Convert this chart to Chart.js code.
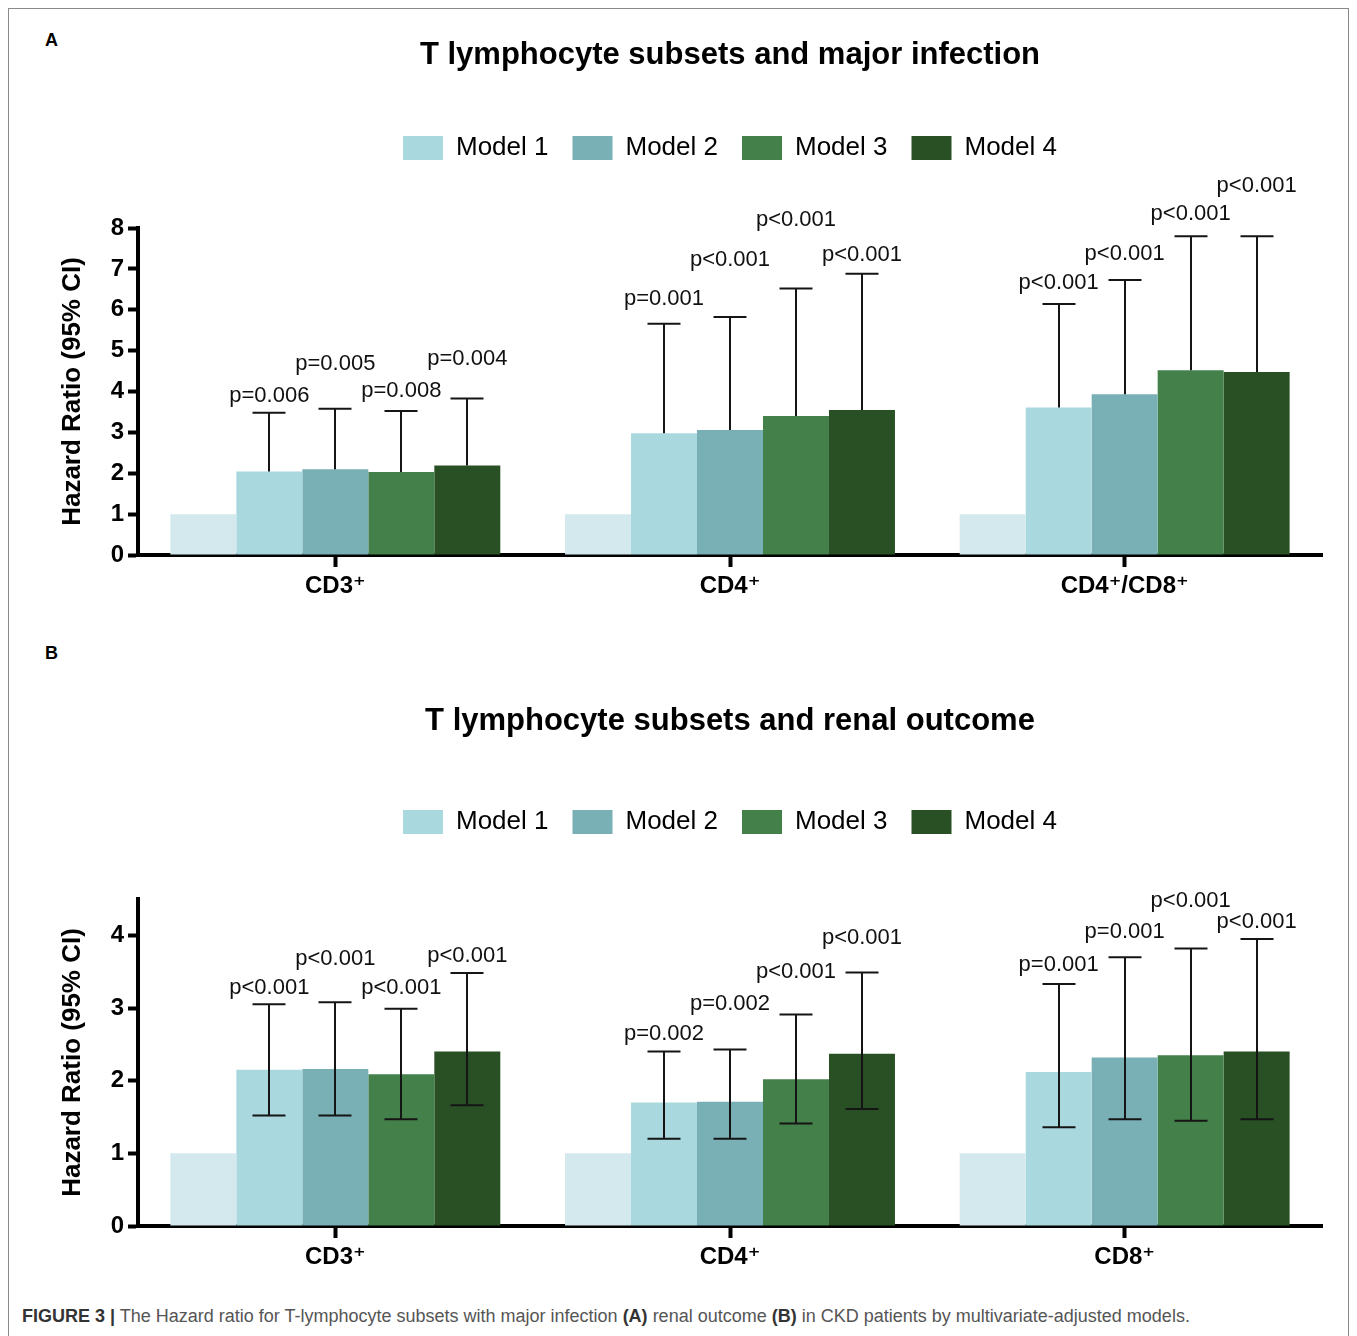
<!DOCTYPE html>
<html>
<head>
<meta charset="utf-8">
<script src="https://cdn.jsdelivr.net/npm/chart.js@4.4.1/dist/chart.umd.min.js"></script>
<style>
  html, body { margin: 0; padding: 0; background: #fff; width: 1357px; height: 1336px; overflow: hidden; }
  #frame { position: absolute; left: 8px; top: 8px; width: 1341px; height: 1340px; border: 1px solid #8a8a8a; box-sizing: border-box; }
  canvas { position: absolute; left: 0; }
  #cA { top: 0; }
  #cB { top: 625px; }
  .panel { position: absolute; left: 45px; font: bold 18px "Liberation Sans", Arial, sans-serif; color: #000; }
  #caption { position: absolute; left: 22px; top: 1306px; font: 18px "Liberation Sans", Arial, sans-serif; color: #555; white-space: nowrap; }
  #caption b { color: #333; }
</style>
</head>
<body>
<div id="frame"></div>
<div class="panel" style="top:30px">A</div>
<div class="panel" style="top:643px">B</div>
<canvas id="cA" width="1357" height="625"></canvas>
<canvas id="cB" width="1357" height="671"></canvas>
<div id="caption"><b>FIGURE 3 |</b> The Hazard ratio for T-lymphocyte subsets with major infection <b>(A)</b> renal outcome <b>(B)</b> in CKD patients by multivariate-adjusted models.</div>
<script>
// ---------------- DATA ----------------
const modelNames = ['Model 1', 'Model 2', 'Model 3', 'Model 4'];
const referenceLabel = 'Reference';

// Panel A: major infection
const titleA = 'T lymphocyte subsets and major infection';
const categoriesA = ['CD3\u207A', 'CD4\u207A', 'CD4\u207A/CD8\u207A'];
const referenceA = [1, 1, 1];
const hrA_m1 = [2.04, 2.98, 3.61];
const hrA_m2 = [2.10, 3.06, 3.93];
const hrA_m3 = [2.03, 3.40, 4.52];
const hrA_m4 = [2.19, 3.55, 4.48];
const upperA_m1 = [3.48, 5.66, 6.14];
const upperA_m2 = [3.58, 5.82, 6.73];
const upperA_m3 = [3.52, 6.52, 7.80];
const upperA_m4 = [3.83, 6.88, 7.80];
const pA_m1 = ['p=0.006', 'p=0.001', 'p<0.001'];
const pA_m2 = ['p=0.005', 'p<0.001', 'p<0.001'];
const pA_m3 = ['p=0.008', 'p<0.001', 'p<0.001'];
const pA_m4 = ['p=0.004', 'p<0.001', 'p<0.001'];
// height (in hazard-ratio units) at which each p label sits
const pAnchorA_m1 = [3.90, 6.27, 6.66];
const pAnchorA_m2 = [4.68, 7.23, 7.37];
const pAnchorA_m3 = [4.02, 8.20, 8.35];
const pAnchorA_m4 = [4.80, 7.33, 9.04];
const yTicksMaxA = 8;

// Panel B: renal outcome
const titleB = 'T lymphocyte subsets and renal outcome';
const categoriesB = ['CD3\u207A', 'CD4\u207A', 'CD8\u207A'];
const referenceB = [1, 1, 1];
const hrB_m1 = [2.15, 1.70, 2.12];
const hrB_m2 = [2.16, 1.71, 2.32];
const hrB_m3 = [2.09, 2.02, 2.35];
const hrB_m4 = [2.40, 2.37, 2.40];
const lowerB_m1 = [1.52, 1.20, 1.36];
const lowerB_m2 = [1.52, 1.20, 1.47];
const lowerB_m3 = [1.47, 1.41, 1.45];
const lowerB_m4 = [1.66, 1.61, 1.47];
const upperB_m1 = [3.05, 2.40, 3.33];
const upperB_m2 = [3.08, 2.43, 3.70];
const upperB_m3 = [2.99, 2.91, 3.82];
const upperB_m4 = [3.48, 3.49, 3.95];
const pB_m1 = ['p<0.001', 'p=0.002', 'p=0.001'];
const pB_m2 = ['p<0.001', 'p=0.002', 'p=0.001'];
const pB_m3 = ['p<0.001', 'p<0.001', 'p<0.001'];
const pB_m4 = ['p<0.001', 'p<0.001', 'p<0.001'];
const pAnchorB_m1 = [3.27, 2.64, 3.59];
const pAnchorB_m2 = [3.68, 3.05, 4.05];
const pAnchorB_m3 = [3.27, 3.49, 4.47];
const pAnchorB_m4 = [3.71, 3.97, 4.19];
const yAxisMaxB = 4.5;

const yTitle = 'Hazard Ratio (95% CI)';

// ---------------- STYLE ----------------
const FONT = '"Liberation Sans", Arial, "DejaVu Sans", sans-serif';
const refColor = '#d3e9ee';
const modelColors = ['#a9d8df', '#79b0b5', '#44804a', '#295024'];

const errorBarPlugin = {
  id: 'errorBars',
  afterDatasetsDraw(chart, args, opts) {
    const ctx = chart.ctx;
    const y = chart.scales.y;
    ctx.save();
    ctx.strokeStyle = '#151515';
    ctx.lineWidth = 2;
    opts.high.forEach((highs, m) => {
      const meta = chart.getDatasetMeta(m + 1);
      meta.data.forEach((bar, j) => {
        const x = Math.round(bar.x);
        const half = bar.width * 0.25;
        const yTop = y.getPixelForValue(highs[j]);
        const yBot = opts.low ? y.getPixelForValue(opts.low[m][j]) : bar.y;
        ctx.beginPath();
        ctx.moveTo(x, yBot); ctx.lineTo(x, yTop);
        ctx.moveTo(x - half, yTop); ctx.lineTo(x + half, yTop);
        if (opts.low) { ctx.moveTo(x - half, yBot); ctx.lineTo(x + half, yBot); }
        ctx.stroke();
      });
    });
    ctx.fillStyle = '#111';
    ctx.font = '22px ' + FONT;
    ctx.textAlign = 'center';
    ctx.textBaseline = 'middle';
    opts.labels.forEach((labs, m) => {
      const meta = chart.getDatasetMeta(m + 1);
      meta.data.forEach((bar, j) => {
        ctx.fillText(labs[j], bar.x, y.getPixelForValue(opts.anchors[m][j]));
      });
    });
    ctx.restore();
  }
};

function legendGap(extra) {
  return {
    id: 'legendGap',
    beforeInit(chart) {
      const fit = chart.legend.fit;
      chart.legend.fit = function () { fit.call(this); this.height += extra; };
    }
  };
}

function build(canvasId, cfg) {
  const datasets = [{ label: referenceLabel, data: cfg.reference, backgroundColor: refColor }]
    .concat(cfg.values.map((v, i) => ({ label: modelNames[i], data: v, backgroundColor: modelColors[i] })));
  return new Chart(document.getElementById(canvasId), {
    type: 'bar',
    data: { labels: cfg.categories, datasets },
    plugins: [errorBarPlugin, legendGap(cfg.legendExtra)],
    options: {
      responsive: false,
      animation: false,
      devicePixelRatio: 1,
      layout: { padding: { left: 0, right: 35, top: 0, bottom: 0 } },
      datasets: { bar: { categoryPercentage: 0.836, barPercentage: 1, borderWidth: 0 } },
      plugins: {
        tooltip: { enabled: false },
        title: {
          display: true, text: cfg.title, fullSize: false, color: '#000',
          font: { family: FONT, size: 31, weight: 'bold', lineHeight: 1.2 },
          padding: { top: cfg.titlePadTop, bottom: cfg.titlePadBottom }
        },
        legend: {
          fullSize: false,
          labels: {
            filter: (item) => item.datasetIndex > 0,
            boxWidth: 40, boxHeight: 24, padding: 24, color: '#000',
            font: { family: FONT, size: 26 }
          }
        },
        errorBars: { high: cfg.high, low: cfg.low, labels: cfg.pLabels, anchors: cfg.pAnchors }
      },
      scales: {
        x: {
          grid: { offset: false, drawOnChartArea: false, drawTicks: true, tickLength: 12, tickWidth: 4, tickColor: '#000' },
          border: { display: true, width: 4, color: '#000' },
          ticks: { color: '#000', padding: 5, font: { family: FONT, size: 24, weight: 'bold' } },
          afterFit(s) { s.height = 70; }
        },
        y: {
          min: 0, max: cfg.yMax,
          ticks: { stepSize: 1, includeBounds: false, color: '#000', padding: 4, font: { family: FONT, size: 24, weight: 'bold' } },
          grid: { drawOnChartArea: false, drawTicks: true, tickLength: 10, tickWidth: 4, tickColor: '#000' },
          border: { display: true, width: 4, color: '#000' },
          title: { display: true, text: yTitle, color: '#000', font: { family: FONT, size: 26, weight: 'bold', lineHeight: 1.2 }, padding: { top: 57, bottom: 0 } },
          afterFit(s) { s.width = 138; }
        }
      }
    }
  });
}

build('cA', {
  title: titleA, categories: categoriesA, reference: referenceA,
  values: [hrA_m1, hrA_m2, hrA_m3, hrA_m4],
  high: [upperA_m1, upperA_m2, upperA_m3, upperA_m4], low: null,
  pLabels: [pA_m1, pA_m2, pA_m3, pA_m4],
  pAnchors: [pAnchorA_m1, pAnchorA_m2, pAnchorA_m3, pAnchorA_m4],
  yMax: yTicksMaxA, titlePadTop: 36.4, titlePadBottom: 37.4, legendExtra: 57
});

build('cB', {
  title: titleB, categories: categoriesB, reference: referenceB,
  values: [hrB_m1, hrB_m2, hrB_m3, hrB_m4],
  high: [upperB_m1, upperB_m2, upperB_m3, upperB_m4],
  low: [lowerB_m1, lowerB_m2, lowerB_m3, lowerB_m4],
  pLabels: [pB_m1, pB_m2, pB_m3, pB_m4],
  pAnchors: [pAnchorB_m1, pAnchorB_m2, pAnchorB_m3, pAnchorB_m4],
  yMax: yAxisMaxB, titlePadTop: 77.4, titlePadBottom: 45.4, legendExtra: 54
});
</script>
</body>
</html>
